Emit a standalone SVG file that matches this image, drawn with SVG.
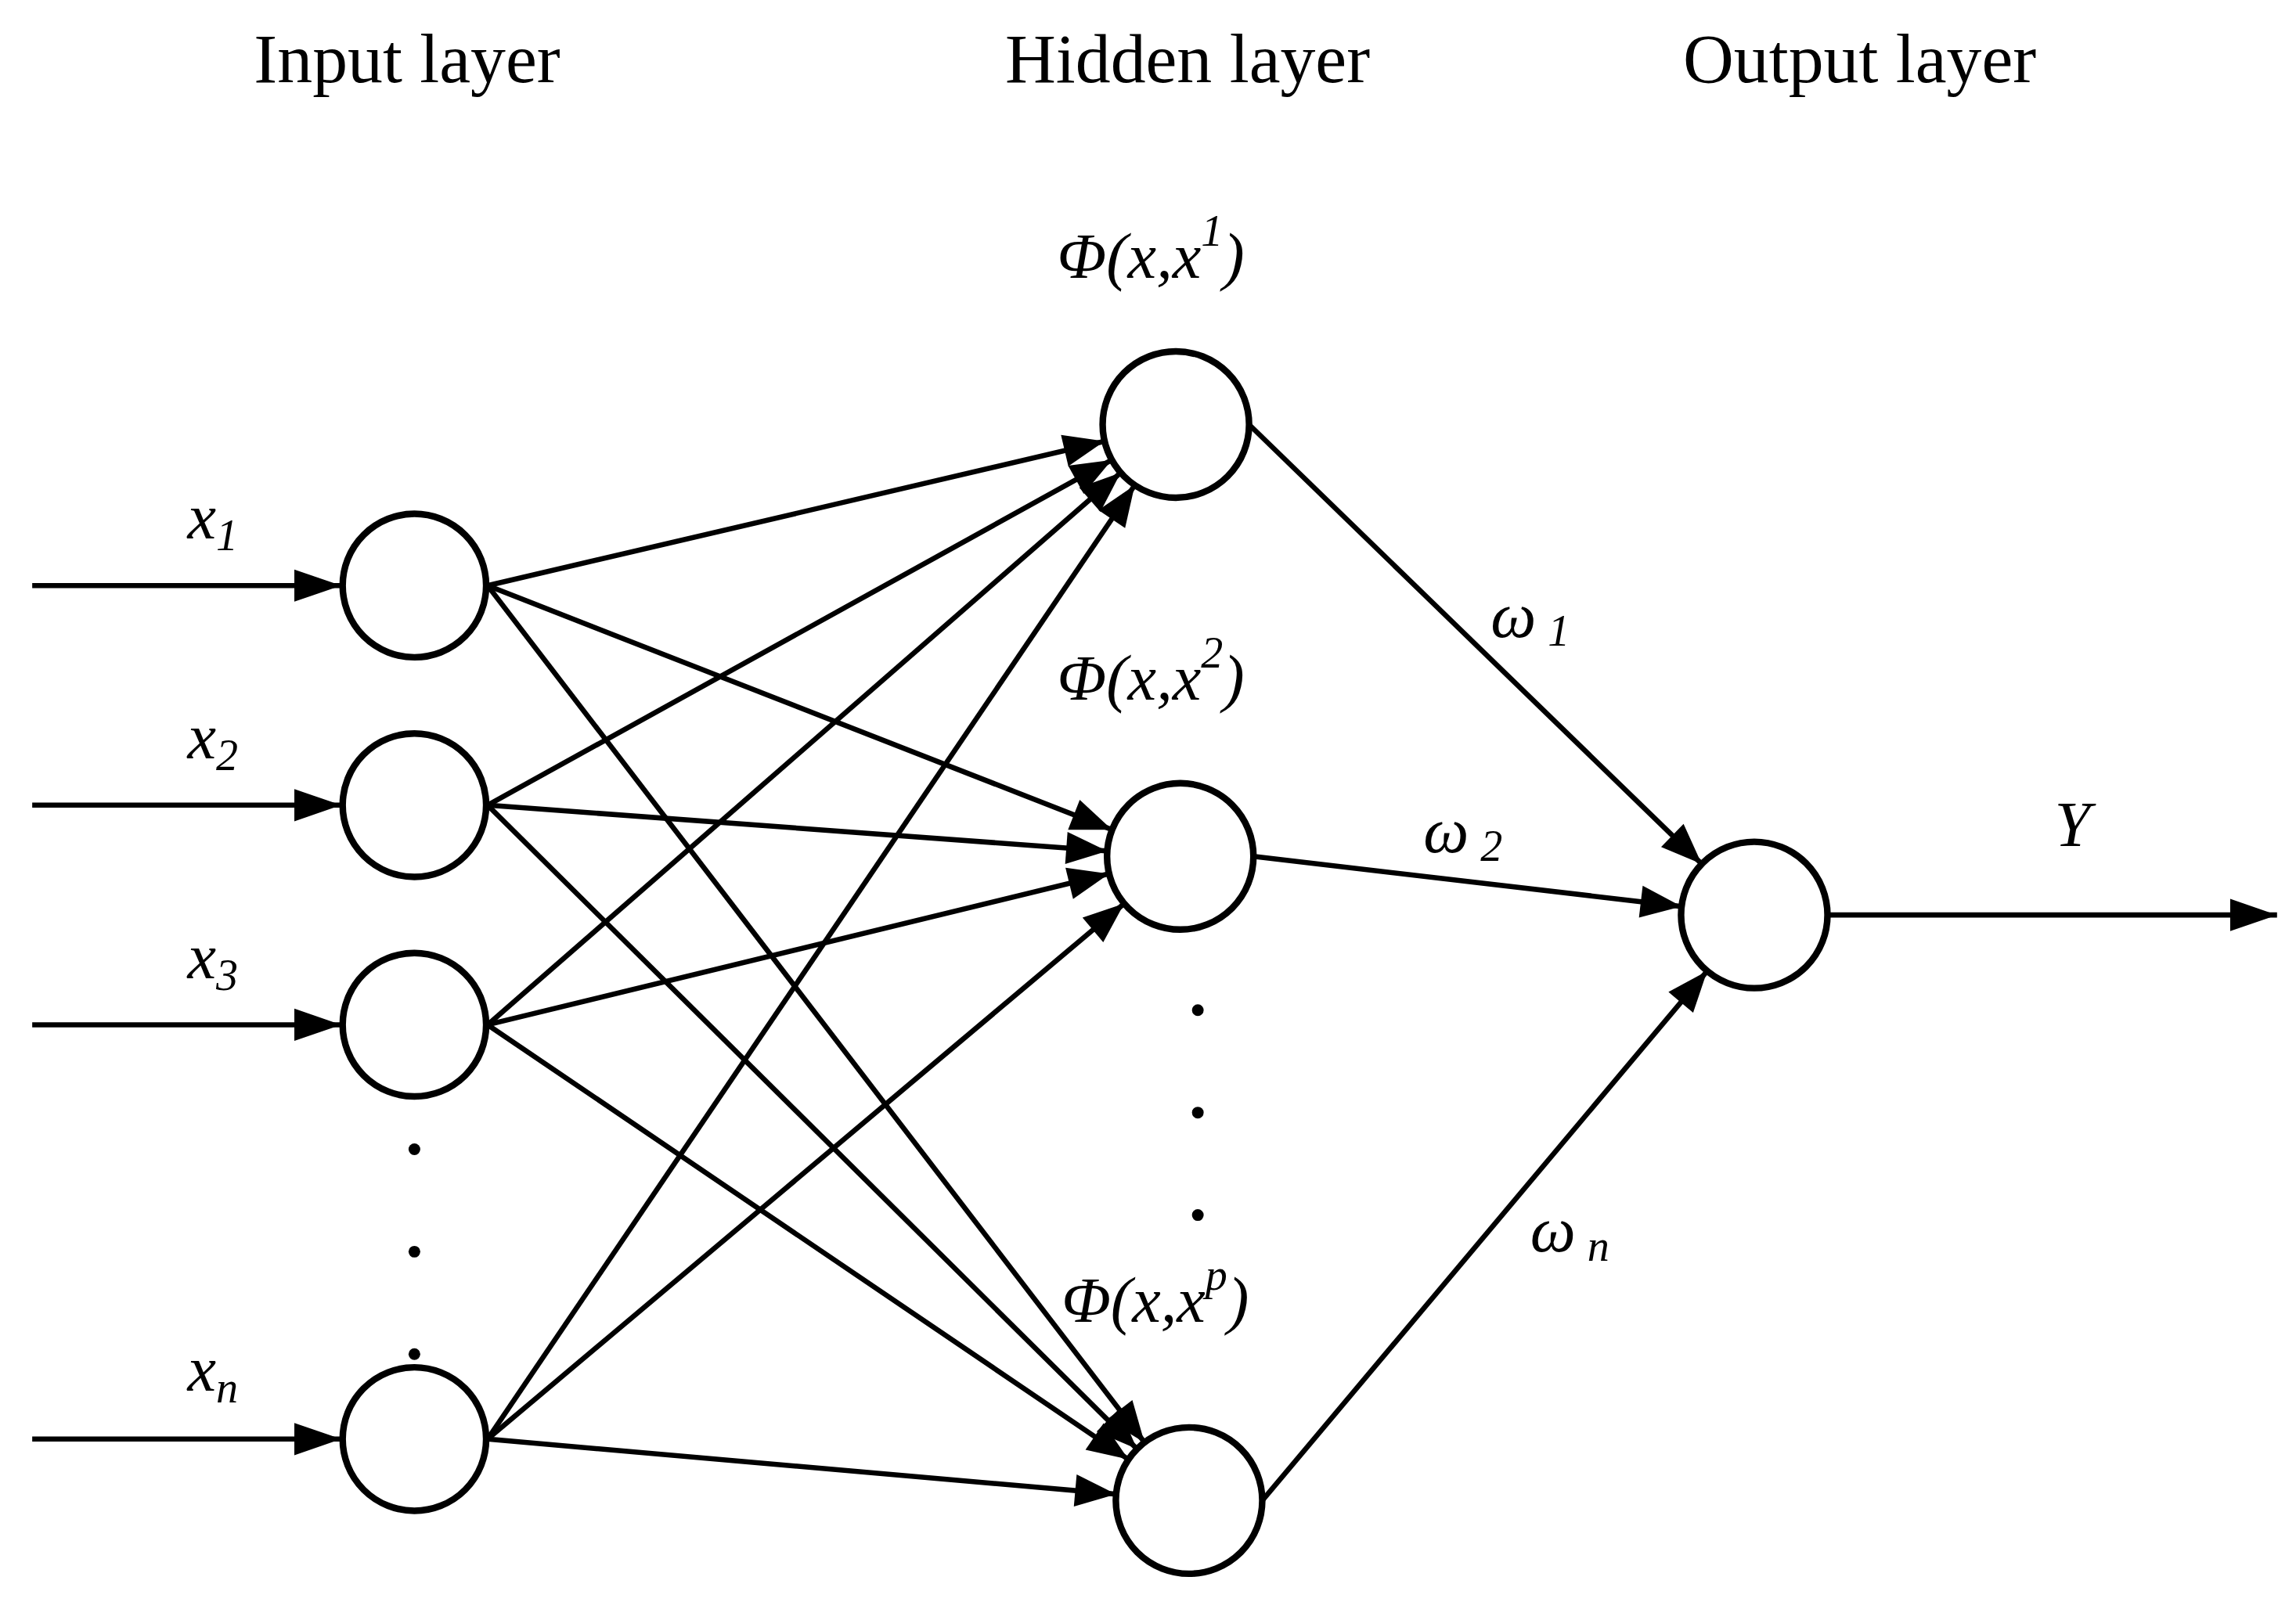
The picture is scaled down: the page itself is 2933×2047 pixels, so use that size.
<svg xmlns="http://www.w3.org/2000/svg" width="2933" height="2047" viewBox="0 0 2933 2047">
<style>
.n{fill:#fff;stroke:#000;stroke-width:4.5}
.c line{stroke:#000;stroke-width:3.5}
text{font-family:"Liberation Serif",serif;fill:#000}
.t{font-size:48px;text-anchor:middle}
.i{font-style:italic;font-size:44px}
.s{font-size:30px}
</style>
<defs>
<marker id="a" markerUnits="userSpaceOnUse" markerWidth="100" markerHeight="30" viewBox="0 -12 100 24" refX="78" refY="0" orient="auto" overflow="visible"><path d="M0,-11 L28,0 L0,11 Z"/></marker>
<marker id="b" markerUnits="userSpaceOnUse" markerWidth="40" markerHeight="30" viewBox="0 -12 40 24" refX="32" refY="0" orient="auto" overflow="visible"><path d="M0,-11 L32,0 L0,11 Z"/></marker>
</defs>
<rect width="2933" height="2047" fill="#fff"/>
<g transform="scale(1.8706)">
<g id="titles">
<text class="t" x="278" y="56">Input layer</text>
<text class="t" x="811" y="56">Hidden layer</text>
<text class="t" x="1270" y="56">Output layer</text>
</g>
<g class="c" id="connectors">
<line x1="22" y1="400" x2="233" y2="400" marker-end="url(#b)"/>
<line x1="22" y1="550" x2="233" y2="550" marker-end="url(#b)"/>
<line x1="22" y1="700" x2="233" y2="700" marker-end="url(#b)"/>
<line x1="22" y1="983" x2="233" y2="983" marker-end="url(#b)"/>
<line x1="333" y1="400" x2="803" y2="290" marker-end="url(#a)"/>
<line x1="333" y1="400" x2="806" y2="585" marker-end="url(#a)"/>
<line x1="333" y1="400" x2="812" y2="1025" marker-end="url(#a)"/>
<line x1="333" y1="550" x2="803" y2="290" marker-end="url(#a)"/>
<line x1="333" y1="550" x2="806" y2="585" marker-end="url(#a)"/>
<line x1="333" y1="550" x2="812" y2="1025" marker-end="url(#a)"/>
<line x1="333" y1="700" x2="803" y2="290" marker-end="url(#a)"/>
<line x1="333" y1="700" x2="806" y2="585" marker-end="url(#a)"/>
<line x1="333" y1="700" x2="812" y2="1025" marker-end="url(#a)"/>
<line x1="333" y1="983" x2="803" y2="290" marker-end="url(#a)"/>
<line x1="333" y1="983" x2="806" y2="585" marker-end="url(#a)"/>
<line x1="333" y1="983" x2="812" y2="1025" marker-end="url(#a)"/>
<line x1="853" y1="290" x2="1198" y2="625" marker-end="url(#a)"/>
<line x1="856" y1="585" x2="1198" y2="625" marker-end="url(#a)"/>
<line x1="862" y1="1025" x2="1198" y2="625" marker-end="url(#a)"/>
<line x1="1248" y1="625" x2="1555" y2="625" marker-end="url(#b)"/>
</g>
<g id="in1"><circle class="n" cx="283" cy="400" r="49"/></g>
<g id="in2"><circle class="n" cx="283" cy="550" r="49"/></g>
<g id="in3"><circle class="n" cx="283" cy="700" r="49"/></g>
<g id="inn"><circle class="n" cx="283" cy="983" r="49"/></g>
<g id="h1"><circle class="n" cx="803" cy="290" r="50"/></g>
<g id="h2"><circle class="n" cx="806" cy="585" r="50"/></g>
<g id="hp"><circle class="n" cx="812" cy="1025" r="50"/></g>
<g id="out"><circle class="n" cx="1198" cy="625" r="50"/></g>
<g id="dots">
<circle cx="283" cy="785" r="4"/><circle cx="283" cy="855" r="4"/><circle cx="283" cy="925" r="4"/>
<circle cx="818" cy="690" r="4"/><circle cx="818" cy="760" r="4"/><circle cx="818" cy="830" r="4"/>
</g>
<g id="labels">
<text class="i" x="128" y="368">x<tspan class="s" dy="8">1</tspan></text>
<text class="i" x="128" y="518">x<tspan class="s" dy="8">2</tspan></text>
<text class="i" x="128" y="668">x<tspan class="s" dy="8">3</tspan></text>
<text class="i" x="128" y="950">x<tspan class="s" dy="8">n</tspan></text>
<text class="i" x="722" y="190">Φ(x,x<tspan class="s" dy="-22">1</tspan><tspan dy="22">)</tspan></text>
<text class="i" x="722" y="478">Φ(x,x<tspan class="s" dy="-22">2</tspan><tspan dy="22">)</tspan></text>
<text class="i" x="725" y="903">Φ(x,x<tspan class="s" dy="-22">p</tspan><tspan dy="22">)</tspan></text>
<text class="i" x="1018" y="435">ω<tspan class="s" dx="8" dy="6">1</tspan></text>
<text class="i" x="972" y="582">ω<tspan class="s" dx="8" dy="6">2</tspan></text>
<text class="i" x="1045" y="855">ω<tspan class="s" dx="8" dy="6">n</tspan></text>
<text class="i" x="1403" y="578">Y</text>
</g>
</g>
</svg>
